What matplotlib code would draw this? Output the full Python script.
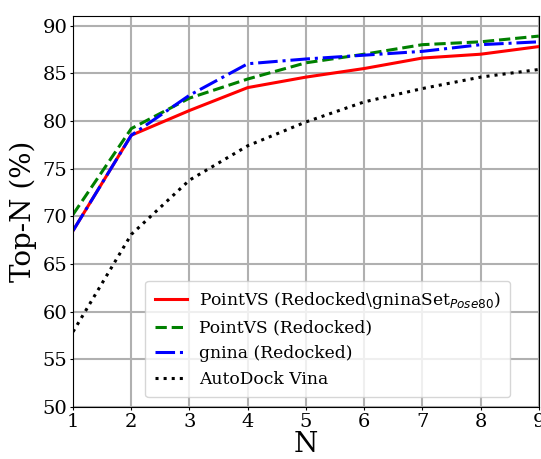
import matplotlib
matplotlib.use('Agg')
import matplotlib.pyplot as plt

plt.rcParams['font.family'] = 'DejaVu Serif'

n = [1, 2, 3, 4, 5, 6, 7, 8, 9]
pointvs_gnina_set = [68.5, 78.5, 81.1, 83.5, 84.6, 85.5, 86.6, 87.0, 87.8]
pointvs_redocked = [70.2, 79.2, 82.4, 84.4, 86.1, 87.0, 88.0, 88.3, 88.9]
gnina_redocked = [68.5, 78.5, 82.7, 86.0, 86.5, 86.9, 87.3, 88.0, 88.3]
autodock_vina = [57.9, 68.1, 73.8, 77.4, 79.9, 82.0, 83.4, 84.6, 85.4]

fig, ax = plt.subplots(figsize=(5.41, 4.59), dpi=100)
fig.subplots_adjust(left=0.135, right=0.996, top=0.965, bottom=0.113)

ax.plot(n, pointvs_gnina_set, color='red', linestyle='-', linewidth=2.2,
        label='PointVS (Redocked\\gninaSet$_{Pose80}$)')
ax.plot(n, pointvs_redocked, color='green', linestyle='--', linewidth=2.2,
        label='PointVS (Redocked)')
ax.plot(n, gnina_redocked, color='blue', linestyle='-.', linewidth=2.2,
        label='gnina (Redocked)')
ax.plot(n, autodock_vina, color='black', linestyle=':', linewidth=2.2,
        label='AutoDock Vina')

ax.set_xlim(1, 9)
ax.set_ylim(50, 91)
ax.set_xticks(n)
ax.set_yticks(range(50, 91, 5))
ax.tick_params(labelsize=14, length=2, pad=2)
ax.grid(True, color='#b0b0b0', linewidth=1.5)
ax.set_xlabel('N', fontsize=20, labelpad=0)
ax.set_ylabel('Top-N (%)', fontsize=20, labelpad=4)
ax.legend(loc='lower right', bbox_to_anchor=(0.938, 0.026), borderaxespad=0,
          fontsize=12.3, handlelength=1.9, handletextpad=0.7, borderpad=0.55)

fig.savefig('out.png', dpi=100)
